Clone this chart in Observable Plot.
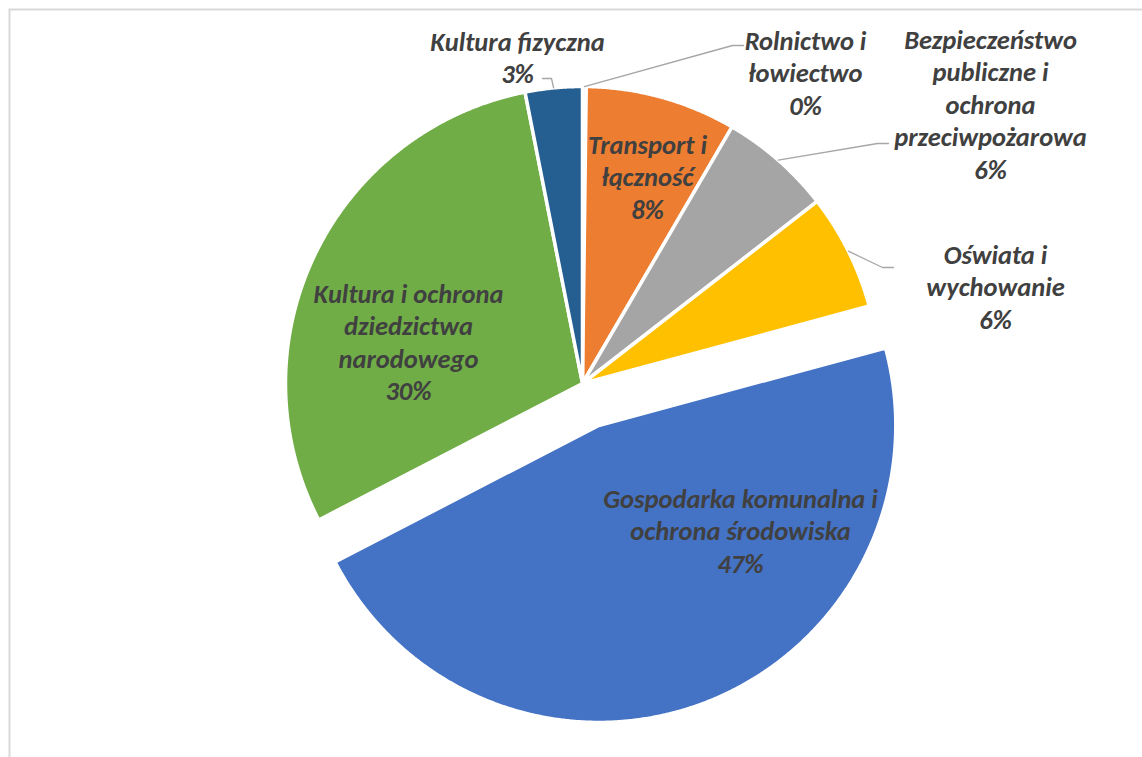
<!DOCTYPE html>
<html><head><meta charset="utf-8">
<script src="https://cdn.jsdelivr.net/npm/d3@7"></script>
<script src="https://cdn.jsdelivr.net/npm/@observablehq/plot@0.6"></script>
<style>
html,body{margin:0;padding:0;background:#fff;overflow:hidden;}
#chart svg{display:block;}
</style></head><body><div id="chart"></div>
<script>
// ---- data ----
const categories = [
  "Rolnictwo i łowiectwo",
  "Transport i łączność",
  "Bezpieczeństwo publiczne i ochrona przeciwpożarowa",
  "Oświata i wychowanie",
  "Gospodarka komunalna i ochrona środowiska",
  "Kultura i ochrona dziedzictwa narodowego",
  "Kultura fizyczna"
];
const shares = [0.2, 8.2, 6.1, 6.3, 46.6, 29.5, 3.1];
const colors = ["#4472C4", "#ED7D31", "#A5A5A5", "#FFC000", "#4472C4", "#70AD47", "#255E91"];
const labelLines = [
  ["Rolnictwo i", "łowiectwo"],
  ["Transport i", "łączność"],
  ["Bezpieczeństwo", "publiczne i", "ochrona", "przeciwpożarowa"],
  ["Oświata i", "wychowanie"],
  ["Gospodarka komunalna i", "ochrona środowiska"],
  ["Kultura i ochrona", "dziedzictwa", "narodowego"],
  ["Kultura fizyczna"]
];

// ---- layout ----
const W = 1142, H = 757;
const cx = 582, cy = 383, R = 297;
const explode = [0, 0, 0, 0, 45, 0, 0];
const fontSize = 26.5, lineGap = 32.5;
// label block: x center, y of first line center
const labelPos = [
  [805, 39], [647, 143], [990, 38], [995, 253], [740, 497], [408, 292], [517, 40]
];
// leader: elbow and end points (null = no leader)
const leaders = [
  [[732, 45], [743, 45]],
  null,
  [[877, 143], [888, 143]],
  [[882, 267], [893, 267]],
  null, null,
  [[551, 78], [542, 78]]
];

const data = categories.map((name, i) => ({name, share: shares[i], color: colors[i], i}));
const arcs = d3.pie().sort(null).value(d => d.share)(data);

const slicePts = [];
const leaderPts = [];
const labels = [];
arcs.forEach(a => {
  const d = a.data, i = d.i;
  const mid = (a.startAngle + a.endAngle) / 2;
  const ox = cx + explode[i] * Math.sin(mid), oy = cy - explode[i] * Math.cos(mid);
  slicePts.push({name: d.name, x: ox, y: oy});
  const n = Math.max(2, Math.ceil((a.endAngle - a.startAngle) / 0.005));
  for (let k = 0; k <= n; k++) {
    const t = a.startAngle + (a.endAngle - a.startAngle) * k / n;
    slicePts.push({name: d.name, x: ox + R * Math.sin(t), y: oy - R * Math.cos(t)});
  }
  if (leaders[i]) {
    leaderPts.push({name: d.name, x: ox + R * Math.sin(mid), y: oy - R * Math.cos(mid)});
    leaders[i].forEach(p => leaderPts.push({name: d.name, x: p[0], y: p[1]}));
  }
  const lines = [...labelLines[i], Math.round(d.share) + "%"];
  labels.push({
    text: lines.join("\n"),
    x: labelPos[i][0],
    y: labelPos[i][1] + (lines.length - 1) * lineGap / 2
  });
});

const plot = Plot.plot({
  width: W, height: H,
  margin: 0,
  x: {domain: [0, W], range: [0, W], axis: null},
  y: {domain: [0, H], range: [0, H], axis: null},
  color: {domain: categories, range: colors},
  style: {background: "#fff", overflow: "visible"},
  marks: [
    Plot.frame({stroke: "#D9D9D9", strokeWidth: 2, insetLeft: 9, insetTop: 9, insetRight: -10, insetBottom: -10}),
    Plot.line(slicePts, {x: "x", y: "y", z: "name", fill: "name", stroke: "#fff", strokeWidth: 3.5, curve: "linear-closed"}),
    Plot.line(leaderPts, {x: "x", y: "y", z: "name", stroke: "#A6A6A6", strokeWidth: 1.3}),
    Plot.text(labels, {
      x: "x", y: "y", text: "text",
      fill: "#404040", fontSize, fontWeight: 900, fontStyle: "italic",
      fontFamily: "Carlito, Calibri, Lato, sans-serif",
      lineHeight: lineGap / fontSize, textAnchor: "middle"
    })
  ]
});
document.getElementById("chart").appendChild(plot);
</script></body></html>
